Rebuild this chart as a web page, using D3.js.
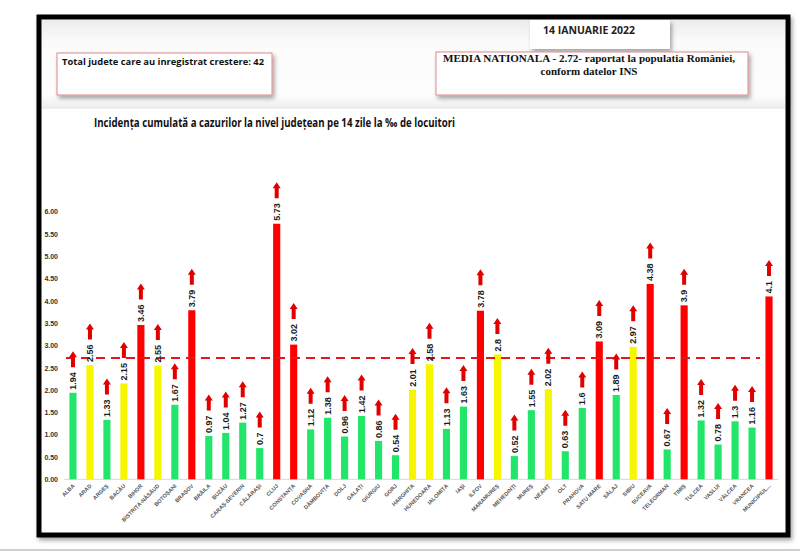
<!DOCTYPE html>
<html>
<head>
<meta charset="utf-8">
<script src="https://cdn.jsdelivr.net/npm/d3@7"></script>
<style>
  body { margin: 0; background: #fff; }
  svg { display: block; }
</style>
</head>
<body>
<svg id="chart" width="800" height="553"></svg>
<script>
// judete, in ordinea din grafic
var judete = ['ALBA', 'ARAD', 'ARGEȘ', 'BACĂU', 'BIHOR', 'BISTRIȚA-NĂSĂUD', 'BOTOȘANI', 'BRAȘOV',
  'BRĂILA', 'BUZĂU', 'CARAȘ-SEVERIN', 'CĂLĂRAȘI', 'CLUJ', 'CONSTANȚA', 'COVASNA', 'DÂMBOVIȚA',
  'DOLJ', 'GALAȚI', 'GIURGIU', 'GORJ', 'HARGHITA', 'HUNEDOARA', 'IALOMIȚA', 'IAȘI', 'ILFOV',
  'MARAMUREȘ', 'MEHEDINȚI', 'MUREȘ', 'NEAMȚ', 'OLT', 'PRAHOVA', 'SATU MARE', 'SĂLAJ', 'SIBIU',
  'SUCEAVA', 'TELEORMAN', 'TIMIȘ', 'TULCEA', 'VASLUI', 'VÂLCEA', 'VRANCEA', 'MUNICIPIUL...'];

// incidenta la mia de locuitori
var incidenta = [1.94, 2.56, 1.33, 2.15, 3.46, 2.55, 1.67, 3.79,
  0.97, 1.04, 1.27, 0.7, 5.73, 3.02, 1.12, 1.38,
  0.96, 1.42, 0.86, 0.54, 2.01, 2.58, 1.13, 1.63, 3.78,
  2.8, 0.52, 1.55, 2.02, 0.63, 1.6, 3.09, 1.89, 2.97,
  4.38, 0.67, 3.9, 1.32, 0.78, 1.3, 1.16, 4.1];

var mediaNationala = 2.72;
var yTicks = [0, 0.5, 1, 1.5, 2, 2.5, 3, 3.5, 4, 4.5, 5, 5.5, 6];
var praguri = [2, 3];
var culori = ['#22e66a', '#f6f600', '#ff0000'];

var svg = d3.select('#chart');

var defs = svg.append('defs');
var f = defs.append('filter').attr('id', 'umbra').attr('x', '-10%').attr('y', '-10%')
  .attr('width', '130%').attr('height', '140%');
f.append('feDropShadow').attr('dx', 2).attr('dy', 3).attr('stdDeviation', 2)
  .attr('flood-color', '#000').attr('flood-opacity', 0.35);

var g = defs.append('linearGradient').attr('id', 'antet').attr('x1', 0).attr('y1', 0).attr('x2', 0).attr('y2', 1);
g.append('stop').attr('offset', '0%').attr('stop-color', '#ececec');
g.append('stop').attr('offset', '25%').attr('stop-color', '#fbfbfb');
g.append('stop').attr('offset', '85%').attr('stop-color', '#fdfdfd');
g.append('stop').attr('offset', '100%').attr('stop-color', '#eeeeee');

// linie gri jos
svg.append('line').attr('x1', 0).attr('x2', 800).attr('y1', 550).attr('y2', 550)
  .attr('stroke', '#cfcfcf').attr('stroke-width', 2);

// cadru
svg.append('rect').attr('x', 39).attr('y', 17).attr('width', 749).attr('height', 518)
  .attr('fill', '#fff').attr('stroke', '#000').attr('stroke-width', 5)
  .attr('filter', 'url(#umbra)');

// antet
svg.append('rect').attr('x', 42).attr('y', 20).attr('width', 743).attr('height', 88)
  .attr('fill', 'url(#antet)');
svg.append('line').attr('x1', 42).attr('x2', 785).attr('y1', 108).attr('y2', 108)
  .attr('stroke', '#e4e4e4').attr('stroke-width', 1);

// caseta data
svg.append('rect').attr('x', 530).attr('y', 20).attr('width', 140).attr('height', 29)
  .attr('fill', '#fff').attr('filter', 'url(#umbra)');
svg.append('text').attr('x', 543).attr('y', 34)
  .attr('textLength', 92).attr('lengthAdjust', 'spacingAndGlyphs')
  .style('font', 'bold 11px "Open Sans", sans-serif')
  .attr('fill', '#222').text('14 IANUARIE 2022');

// caseta stanga
svg.append('rect').attr('x', 57).attr('y', 53).attr('width', 215).attr('height', 42)
  .attr('fill', '#fff').attr('stroke', '#e08a8a').attr('stroke-width', 1)
  .attr('filter', 'url(#umbra)');
svg.append('text').attr('x', 62).attr('y', 65)
  .attr('textLength', 202).attr('lengthAdjust', 'spacingAndGlyphs')
  .style('font', 'bold 9.5px "Open Sans", sans-serif')
  .attr('fill', '#111').text('Total judete care au inregistrat crestere: 42');

// caseta dreapta
svg.append('rect').attr('x', 436).attr('y', 52).attr('width', 312).attr('height', 43)
  .attr('fill', '#fff').attr('stroke', '#e08a8a').attr('stroke-width', 1)
  .attr('filter', 'url(#umbra)');
var tm = svg.append('text').attr('text-anchor', 'middle')
  .style('font', 'bold 11px "Liberation Serif", serif').attr('fill', '#111');
tm.append('tspan').attr('x', 589).attr('y', 62)
  .attr('textLength', 292).attr('lengthAdjust', 'spacingAndGlyphs')
  .text('MEDIA NATIONALA - 2.72-  raportat la populatia României,');
tm.append('tspan').attr('x', 589).attr('y', 75).text('conform datelor INS');

// titlu
svg.append('text').attr('x', 94).attr('y', 127)
  .attr('textLength', 361).attr('lengthAdjust', 'spacingAndGlyphs')
  .style('font', 'bold 11.5px "Open Sans", sans-serif').attr('fill', '#111')
  .text('Incidența cumulată a cazurilor la nivel județean pe 14 zile la ‰ de locuitori');

// scale
var x = d3.scaleBand().domain(judete).range([65, 777]).paddingInner(0.58).paddingOuter(0.26);
var y = d3.scaleLinear().domain([0, 6]).range([479.3, 211.7]);
var culoare = d3.scaleThreshold().domain(praguri).range(culori);

var yAxis = svg.append('g').attr('transform', 'translate(60,0)')
  .call(d3.axisLeft(y).tickValues(yTicks).tickFormat(d3.format('.2f')).tickSize(0).tickPadding(2));
yAxis.select('.domain').remove();
yAxis.selectAll('text').style('font', 'bold 7px "Liberation Sans", sans-serif').attr('fill', '#333');

// linie de baza
svg.append('line').attr('x1', 64).attr('x2', 778).attr('y1', y(0)).attr('y2', y(0))
  .attr('stroke', '#d8d8d8').attr('stroke-width', 1);

var xAxis = svg.append('g').attr('transform', 'translate(0,' + y(0) + ')')
  .call(d3.axisBottom(x).tickSize(0).tickPadding(0));
xAxis.select('.domain').remove();
xAxis.selectAll('text')
  .style('font', 'bold 5.5px "Liberation Sans Narrow", "Liberation Sans", sans-serif')
  .attr('fill', '#555')
  .attr('text-anchor', 'end')
  .attr('dy', 0)
  .attr('transform', 'translate(2,7) rotate(-45)');

// bare
var w = x.bandwidth();
svg.append('g').selectAll('rect').data(incidenta).enter().append('rect')
  .attr('x', function(d, i) { return x(judete[i]); })
  .attr('y', function(d) { return y(d); })
  .attr('width', w)
  .attr('height', function(d) { return y(0) - y(d); })
  .attr('fill', function(d) { return culoare(d); });

// media nationala
svg.append('line').attr('x1', 66).attr('x2', 760)
  .attr('y1', y(mediaNationala)).attr('y2', y(mediaNationala))
  .attr('stroke', '#e8141c').attr('stroke-width', 2).attr('stroke-dasharray', '9,6');

// etichete valori
var et = svg.append('g').selectAll('g').data(incidenta).enter().append('g')
  .attr('transform', function(d, i) {
    return 'translate(' + (x(judete[i]) + w / 2) + ',' + (y(d) - 3) + ')';
  });

et.append('text')
  .attr('transform', 'rotate(-90)')
  .attr('dy', '0.35em')
  .style('font', 'bold 9px "Liberation Sans", sans-serif')
  .attr('fill', '#1a1a1a')
  .text(function(d) { return d; });

// sageti
et.each(function() {
  var grp = d3.select(this);
  var len = grp.select('text').node().getComputedTextLength();
  var b = -len - 5;
  grp.append('path')
    .attr('d', 'M-2,' + b + 'V' + (b - 10) + 'H-4L0,' + (b - 16) + 'L4,' + (b - 10) + 'H2V' + b + 'Z')
    .attr('fill', '#e00000');
});
</script>
</body>
</html>
